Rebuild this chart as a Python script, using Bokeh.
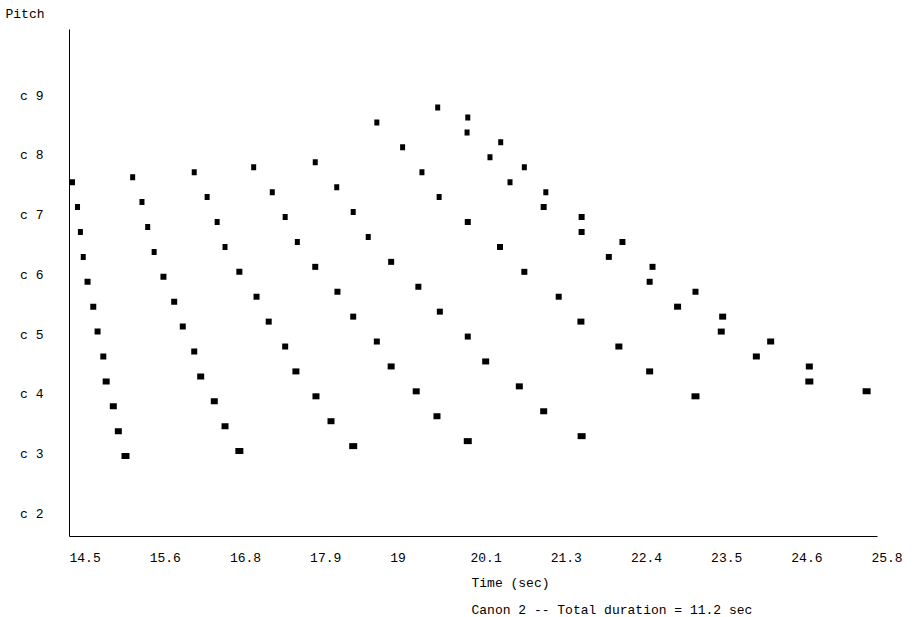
from bokeh.plotting import figure
from bokeh.models import ColumnDataSource, Range1d, FixedTicker, CustomJSTickFormatter, Title
from bokeh.transform import dodge
from bokeh.embed import file_html
from bokeh.resources import INLINE

# ---------------- data (onset time in sec, pitch as MIDI number) ----------------
voice1_t = [14.50, 14.57, 14.61, 14.65, 14.71, 14.79, 14.85, 14.93, 14.97, 15.07, 15.14, 15.24]
voice1_p = [104, 99, 94, 89, 84, 79, 74, 69, 64, 59, 54, 49]
voice2_t = [15.34, 15.47, 15.55, 15.64, 15.77, 15.92, 16.04, 16.20, 16.29, 16.48, 16.63, 16.83]
voice2_p = [105, 100, 95, 90, 85, 80, 75, 70, 65, 60, 55, 50]
voice3_t = [16.20, 16.38, 16.52, 16.63, 16.83, 17.07, 17.24, 17.47, 17.62, 17.90, 18.11, 18.42]
voice3_p = [106, 101, 96, 91, 86, 81, 76, 71, 66, 61, 56, 51]
voice4_t = [17.03, 17.29, 17.47, 17.64, 17.89, 18.20, 18.42, 18.75, 18.95, 19.30, 19.59, 20.02]
voice4_p = [107, 102, 97, 92, 87, 82, 77, 72, 67, 62, 57, 52]
voice5_t = [17.89, 18.19, 18.42, 18.63, 18.95, 19.33, 19.63, 20.02, 20.27, 20.74, 21.08, 21.61]
voice5_p = [108, 103, 98, 93, 88, 83, 78, 73, 68, 63, 58, 53]
voice6_t = [18.75, 19.11, 19.38, 19.62, 20.02, 20.47, 20.81, 21.29, 21.60, 22.13, 22.56, 23.20]
voice6_p = [116, 111, 106, 101, 96, 91, 86, 81, 76, 71, 66, 61]
voice7_t = [19.60, 20.01, 20.33, 20.61, 21.08, 21.61, 21.99, 22.56, 22.95, 23.56, 24.05, 24.79]
voice7_p = [119, 114, 109, 104, 99, 94, 89, 84, 79, 74, 69, 64]
voice8_t = [20.02, 20.48, 20.81, 21.11, 21.61, 22.18, 22.60, 23.20, 23.58, 24.25, 24.79, 25.59]
voice8_p = [117, 112, 107, 102, 97, 92, 87, 82, 77, 72, 67, 62]

x_tick_labels = ["14.5", "15.6", "16.8", "17.9", "19", "20.1", "21.3", "22.4", "23.5", "24.6", "25.8"]
y_tick_labels = ["c 2", "c 3", "c 4", "c 5", "c 6", "c 7", "c 8", "c 9"]
y_tick_pitches = [36, 48, 60, 72, 84, 96, 108, 120]

title_text = "Canon 2 -- Total duration = 11.2 sec"
x_label_text = "Time (sec)"
y_label_text = "Pitch"

# ---------------- styling ----------------
FONT = "Liberation Mono"
FSIZE = "13px"
# marker width (screen px) by position of the note in its voice
marker_w = [5, 5, 5, 5, 6, 6, 6, 6, 7, 7, 7, 8]

voices_t = [voice1_t, voice2_t, voice3_t, voice4_t, voice5_t, voice6_t, voice7_t, voice8_t]
voices_p = [voice1_p, voice2_p, voice3_p, voice4_p, voice5_p, voice6_p, voice7_p, voice8_p]

ts, ps, ws = [], [], []
for vt, vp in zip(voices_t, voices_p):
    for i, (t, pch) in enumerate(zip(vt, vp)):
        ts.append(t)
        ps.append(pch)
        ws.append(marker_w[i])
src = ColumnDataSource(dict(t=ts, p=ps, w=ws))

x0 = 14.5
x_step = 1.12
p = figure(frame_width=808, frame_height=507,
           min_border_left=69, min_border_right=38, min_border_top=29, min_border_bottom=81,
           x_range=Range1d(x0, 25.784), y_range=Range1d(32.25, 134.06),
           output_backend="svg", toolbar_location=None,
           background_fill_color="white", border_fill_color="white")
p.outline_line_color = None
p.grid.visible = False

# notes: rectangle whose left edge is the onset and top edge the pitch
p.rect(x=dodge("t", 0.042, range=p.x_range), y=dodge("p", -0.6, range=p.y_range),
       width="w", height=6, width_units="screen", height_units="screen",
       source=src, fill_color="black", line_color=None)

# x axis: labels start at their tick (monospace font, left padded with no-break spaces)
p.xaxis.ticker = FixedTicker(ticks=[x0 + k * x_step for k in range(len(x_tick_labels))])
p.xaxis.formatter = CustomJSTickFormatter(
    args=dict(labels=x_tick_labels, start=x0, step=x_step),
    code="const s = labels[Math.round((tick - start) / step)]; return '\\u00a0'.repeat(s.length) + s;")
# y axis (labels sit just above their pitch line, as in the original)
lab_off = 0.7
p.yaxis.ticker = FixedTicker(ticks=[v + lab_off for v in y_tick_pitches])
p.yaxis.formatter = CustomJSTickFormatter(
    args=dict(labels=y_tick_labels, start=y_tick_pitches[0] + lab_off),
    code="return labels[Math.round((tick - start) / 12)];")

for ax in (p.xaxis[0], p.yaxis[0]):
    ax.axis_line_color = "black"
    ax.axis_line_width = 1
    ax.major_tick_out = 0
    ax.major_tick_in = 0
    ax.minor_tick_out = 0
    ax.minor_tick_in = 0
    ax.major_label_text_font = FONT
    ax.major_label_text_font_size = FSIZE
    ax.major_label_text_color = "black"
p.xaxis.major_label_standoff = 14
p.yaxis.major_label_standoff = 26

def make_title(txt, offset, standoff, valign="bottom"):
    return Title(text=txt, align="left", offset=offset, standoff=standoff,
                 vertical_align=valign,
                 text_font=FONT, text_font_size=FSIZE, text_font_style="normal",
                 text_color="black", text_line_height=1.0)

p.add_layout(make_title(x_label_text, 402, 10), "below")
p.add_layout(make_title(title_text, 402, 10), "below")
p.add_layout(make_title(y_label_text, -64, 12, "top"), "above")

open("out.html", "w").write(file_html(p, INLINE))
